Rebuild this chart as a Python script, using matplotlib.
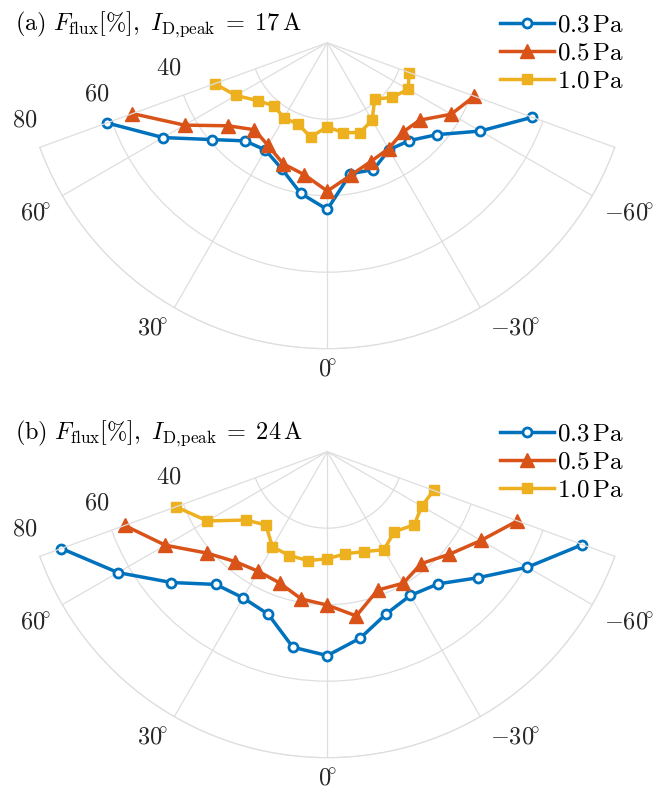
import numpy as np
import matplotlib.pyplot as plt

plt.rcParams['mathtext.fontset'] = 'cm'
plt.rcParams['font.family'] = 'serif'

# measurement angles (deg), 0 = straight below the target
angles = [70, 60, 50, 40, 30, 20, 10, 0, -10, -20, -30, -40, -50, -60, -70]

# flux fraction [%] at I_D,peak = 17 A
flux_17_03 = [61.3, 49.6, 39.4, 33.5, 32.4, 35.0, 40.0, 43.6, 34.8, 35.3, 32.3, 33.4, 37.4, 46.2, 57.0]
flux_17_05 = [54.2, 43.1, 33.8, 29.7, 31.0, 33.7, 35.0, 38.8, 35.2, 33.1, 32.0, 30.6, 31.5, 37.4, 40.9]
flux_17_10 = [31.3, 27.6, 23.6, 21.6, 22.7, 22.6, 25.0, 22.0, 23.9, 25.0, 23.4, 19.3, 22.2, 24.4, 22.8]

# flux fraction [%] at I_D,peak = 24 A
flux_24_03 = [74.0, 63.2, 53.2, 45.3, 44.1, 45.2, 51.9, 53.3, 49.5, 45.1, 43.4, 45.1, 51.3, 60.4, 71.0]
flux_24_05 = [56.4, 48.9, 41.2, 37.5, 36.1, 36.5, 39.1, 40.1, 43.6, 38.5, 39.7, 38.2, 41.7, 46.4, 52.9]
flux_24_10 = [42.1, 36.2, 27.8, 25.0, 28.7, 28.9, 28.9, 28.0, 27.1, 27.8, 29.6, 27.3, 29.7, 28.5, 29.6]

pressures = ['0.3', '0.5', '1.0']
titles = [r'$\mathrm{(a)}\ F_{\mathrm{flux}}[\%],\ I_{\mathrm{D,\!peak}}\;=\;17\,\mathrm{A}$',
          r'$\mathrm{(b)}\ F_{\mathrm{flux}}[\%],\ I_{\mathrm{D,\!peak}}\;=\;24\,\mathrm{A}$']
theta_ticks = [60, 30, 0, -30, -60]
r_ticks = [40, 60, 80]

colors = ['#0072BD', '#D95319', '#EDB120']
styles = [dict(marker='o', ms=6.5, mfc='white', mew=2),
          dict(marker='^', ms=9.5),
          dict(marker='s', ms=7)]
grid_col = '#DEDEDE'
text_col = '#262626'

W, H = 667, 791
fig = plt.figure(figsize=(W / 100, H / 100), dpi=100)

R = 306.0
S = 2 * np.sin(np.deg2rad(70)) * R   # wedge width; the polar box stays square


def panel(cx, cy, series, title):
    yc = cy + R / 2
    ax = fig.add_axes([(cx - S / 2) / W, (H - yc - S / 2) / H, S / W, S / H],
                      projection='polar')
    ax.set_theta_zero_location('S')
    ax.set_theta_direction(-1)
    ax.set_thetamin(-70)
    ax.set_thetamax(70)
    ax.set_rlim(0, 80)
    ax.set_rticks([20, 40, 60, 80])
    ax.set_yticklabels([])
    ax.set_xticks(np.deg2rad(theta_ticks))
    ax.set_xticklabels([])
    ax.tick_params(length=0)
    ax.grid(True, color=grid_col, lw=0.9)
    for sp in ax.spines.values():
        sp.set_color(grid_col)
        sp.set_linewidth(0.9)

    th = np.deg2rad(angles)
    for vals, p, c, st in zip(series, pressures, colors, styles):
        ax.plot(th, vals, color=c, lw=2.5, mec=c, label=r'$%s\,\mathrm{Pa}$' % p,
                clip_on=False, **st)

    # angle labels just outside the outer ring
    offs = {60: (-27, -18), 30: (-22, -21), 0: (0, -21), -30: (35, -21), -60: (37, -18)}
    for t in theta_ticks:
        lab = r'$%d\!^{\circ}$' % t if t >= 0 else r'$-%d\!^{\circ}$' % -t
        ax.annotate(lab, xy=(np.deg2rad(t), 80), xytext=offs[t], textcoords='offset pixels',
                    ha='center', va='center', fontsize=17.5, color=text_col,
                    annotation_clip=False)
    # radial labels beside the left edge
    for r in r_ticks:
        ax.annotate(r'$%d$' % r, xy=(np.deg2rad(70), r), xytext=(-15, 27),
                    textcoords='offset pixels', ha='center', va='center', fontsize=17.5,
                    color=text_col, annotation_clip=False)

    fig.text(15 / W, 1 - (cy - 18) / H, title, ha='left', va='center', fontsize=17.5)
    fig.legend(*ax.get_legend_handles_labels(), loc='upper left',
               bbox_to_anchor=(500 / W, 1 - (cy - 29) / H), frameon=False,
               fontsize=18, handlelength=2.16, handletextpad=0.12, labelspacing=0.2,
               borderpad=0, borderaxespad=0)
    return ax


panel(327.3, 42.7, [flux_17_03, flux_17_05, flux_17_10], titles[0])
panel(327.3, 451.7, [flux_24_03, flux_24_05, flux_24_10], titles[1])

fig.savefig('out.png', dpi=100)
